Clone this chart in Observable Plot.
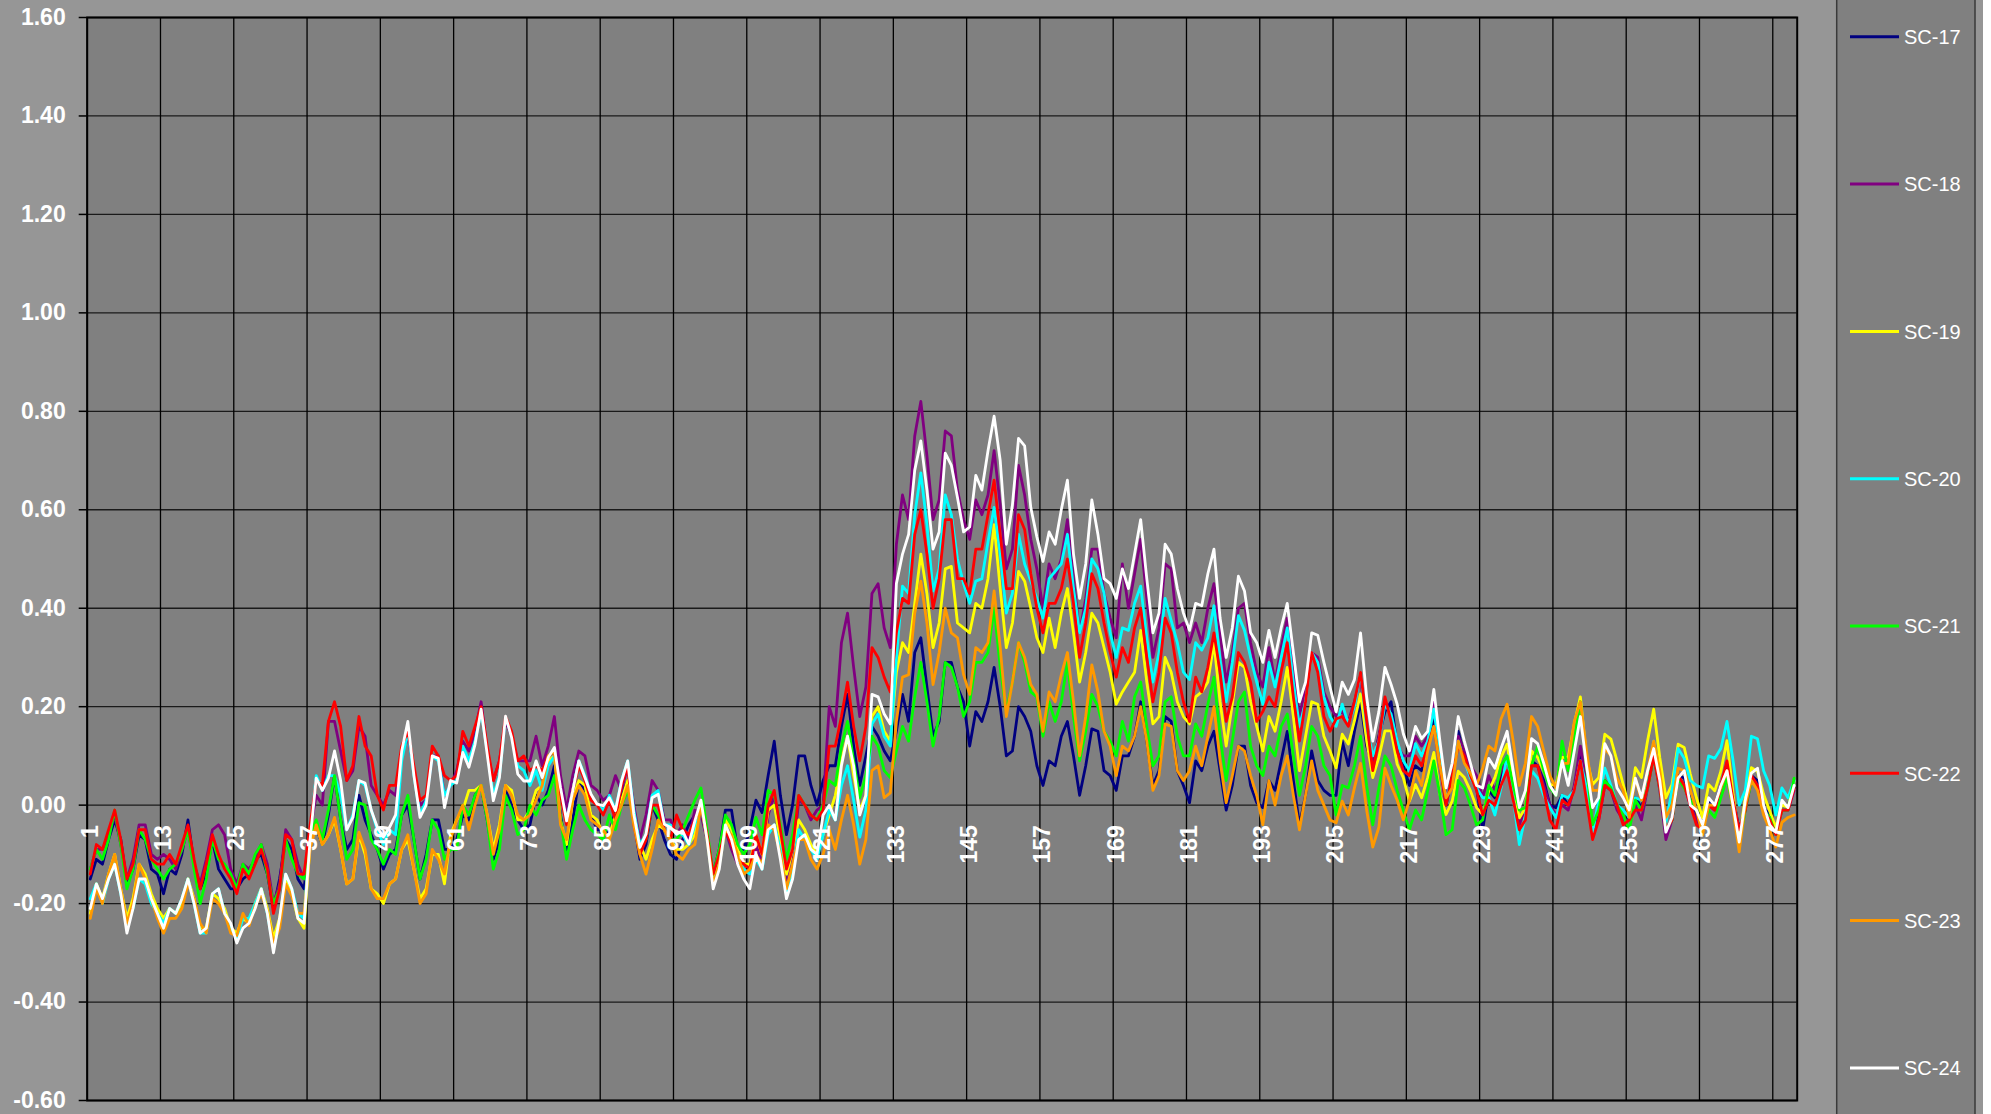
<!DOCTYPE html>
<html><head><meta charset="utf-8">
<script src="https://cdn.jsdelivr.net/npm/d3@7"></script>
<script src="https://cdn.jsdelivr.net/npm/@observablehq/plot@0.6"></script>
<style>html,body{margin:0;padding:0;background:#969696;overflow:hidden}</style>
</head><body><div id="chart"></div>
<script>
const seriesNames = ["SC-17","SC-18","SC-19","SC-20","SC-21","SC-22","SC-23","SC-24"];
const seriesColors = ["#000080","#800080","#FFFF00","#00FFFF","#00FF00","#FF0000","#FF9900","#FFFFFF"];
const xLabels = [1,13,25,37,49,61,73,85,97,109,121,133,145,157,169,181,193,205,217,229,241,253,265,277];
const yTicks = [-0.6,-0.4,-0.2,0,0.2,0.4,0.6,0.8,1.0,1.2,1.4,1.6];

const sc17 = [
-0.15,-0.11,-0.12,-0.07,-0.03,-0.07,-0.16,-0.13,-0.06,-0.07,
-0.13,-0.14,-0.18,-0.13,-0.14,-0.10,-0.03,-0.12,-0.17,-0.14,
-0.07,-0.13,-0.15,-0.17,-0.17,-0.15,-0.14,-0.11,-0.10,-0.14,
-0.21,-0.15,-0.07,-0.09,-0.15,-0.17,-0.07,-0.045,-0.08,-0.02,
0.06,-0.03,-0.09,-0.07,0.02,-0.03,-0.06,-0.09,-0.13,-0.10,
-0.09,-0.02,0.00,-0.07,-0.15,-0.10,-0.03,-0.03,-0.09,-0.09,
-0.07,-0.02,-0.03,0.02,0.04,-0.03,-0.11,-0.07,0.03,0.00,
-0.03,-0.05,-0.04,0.02,0.00,0.03,0.08,-0.02,-0.10,-0.03,
0.05,0.03,-0.02,-0.05,-0.05,-0.06,-0.01,0.02,0.05,-0.03,
-0.11,-0.08,0.00,-0.03,-0.07,-0.10,-0.11,-0.07,-0.04,-0.02,
0.00,-0.06,-0.14,-0.09,-0.01,-0.01,-0.09,-0.09,-0.05,0.01,
-0.015,0.06,0.13,0.02,-0.06,0.00,0.10,0.10,0.04,0.00,
0.05,0.08,0.08,0.16,0.225,0.12,0.04,0.10,0.16,0.14,
0.11,0.09,0.15,0.225,0.17,0.31,0.34,0.24,0.14,0.17,
0.29,0.29,0.24,0.21,0.12,0.19,0.17,0.21,0.28,0.20,
0.10,0.11,0.20,0.18,0.15,0.08,0.04,0.09,0.08,0.14,
0.17,0.10,0.02,0.08,0.155,0.15,0.07,0.06,0.03,0.10,
0.10,0.14,0.21,0.13,0.04,0.07,0.18,0.17,0.07,0.04,
0.005,0.09,0.07,0.12,0.15,0.07,-0.01,0.04,0.12,0.12,
0.04,0.005,-0.005,0.05,0.03,0.09,0.15,0.05,-0.04,0.02,
0.11,0.05,0.03,0.02,0.02,0.13,0.08,0.15,0.21,0.12,
0.08,0.14,0.19,0.21,0.12,0.08,0.04,0.08,0.07,0.12,
0.18,0.09,0.00,0.06,0.15,0.10,0.06,0.035,-0.05,0.03,
0.015,0.06,0.10,0.03,-0.03,-0.01,0.09,0.08,0.05,0.00,
-0.005,0.02,0.00,0.035,0.10,0.03,-0.05,-0.01,0.05,0.035,
0.00,-0.03,-0.03,0.015,-0.005,0.04,0.10,0.04,-0.05,-0.03,
0.06,0.055,0.015,-0.03,-0.04,0.01,0.00,0.04,0.08,0.015,
-0.05,-0.005,0.06,0.05,-0.005,-0.02,-0.05,0.00,0.00,0.035];

const sc18 = [
-0.13,-0.09,-0.09,-0.06,-0.02,-0.08,-0.15,-0.11,-0.04,-0.04,
-0.10,-0.11,-0.10,-0.11,-0.13,-0.09,-0.05,-0.12,-0.16,-0.11,
-0.05,-0.04,-0.06,-0.13,-0.16,-0.12,-0.13,-0.11,-0.08,-0.12,
-0.20,-0.16,-0.05,-0.07,-0.12,-0.15,-0.05,0.02,0.00,0.17,
0.17,0.11,0.05,0.07,0.16,0.14,0.04,0.02,0.00,0.03,
0.02,0.11,0.14,0.07,0.00,0.01,0.10,0.10,0.02,0.04,
0.07,0.13,0.11,0.15,0.21,0.11,0.05,0.09,0.17,0.14,
0.09,0.09,0.09,0.14,0.08,0.12,0.18,0.06,-0.01,0.06,
0.11,0.10,0.04,0.03,0.01,0.02,0.06,0.03,0.08,0.00,
-0.07,-0.02,0.05,0.03,-0.03,-0.03,-0.06,-0.04,-0.07,-0.01,
-0.02,-0.07,-0.15,-0.11,-0.05,-0.09,-0.12,-0.13,-0.14,-0.08,
-0.12,-0.02,0.02,-0.06,-0.16,-0.12,0.01,0.00,-0.03,-0.01,
0.00,0.20,0.16,0.33,0.39,0.28,0.18,0.24,0.43,0.45,
0.36,0.32,0.53,0.63,0.58,0.75,0.82,0.71,0.58,0.62,
0.76,0.75,0.64,0.58,0.54,0.62,0.59,0.63,0.72,0.61,
0.48,0.52,0.69,0.63,0.54,0.48,0.40,0.49,0.46,0.50,
0.58,0.46,0.35,0.42,0.52,0.52,0.43,0.38,0.34,0.49,
0.40,0.47,0.54,0.42,0.30,0.36,0.49,0.48,0.36,0.37,
0.33,0.37,0.33,0.40,0.45,0.35,0.25,0.31,0.40,0.41,
0.33,0.27,0.24,0.32,0.25,0.32,0.38,0.28,0.18,0.24,
0.31,0.30,0.23,0.20,0.18,0.19,0.17,0.21,0.26,0.15,
0.08,0.14,0.21,0.18,0.12,0.10,0.10,0.14,0.12,0.14,
0.21,0.12,0.015,0.04,0.14,0.11,0.08,0.06,0.015,0.06,
0.03,0.07,0.09,0.03,-0.04,-0.005,0.08,0.08,0.04,0.00,
-0.02,0.00,-0.01,0.04,0.12,0.04,-0.05,-0.03,0.04,0.03,
-0.01,-0.03,-0.03,0.00,-0.03,0.035,0.10,0.03,-0.07,-0.03,
0.06,0.04,0.00,-0.03,-0.05,0.00,-0.01,0.035,0.07,0.00,
-0.07,-0.01,0.05,0.04,-0.01,-0.03,-0.06,-0.01,-0.01,0.03];

const sc19 = [
-0.22,-0.16,-0.19,-0.14,-0.10,-0.17,-0.23,-0.19,-0.12,-0.14,
-0.18,-0.21,-0.23,-0.21,-0.22,-0.20,-0.15,-0.19,-0.25,-0.25,
-0.18,-0.19,-0.21,-0.25,-0.26,-0.23,-0.24,-0.20,-0.17,-0.21,
-0.27,-0.23,-0.15,-0.18,-0.23,-0.25,-0.08,-0.04,-0.08,-0.06,
-0.03,-0.09,-0.16,-0.15,-0.06,-0.10,-0.17,-0.18,-0.20,-0.16,
-0.15,-0.09,-0.07,-0.13,-0.19,-0.17,-0.10,-0.10,-0.16,-0.06,
-0.03,-0.01,0.03,0.03,0.04,-0.02,-0.09,-0.04,0.04,0.03,
-0.03,-0.03,-0.01,0.03,0.04,0.09,0.10,-0.03,-0.08,0.01,
0.05,0.04,-0.02,-0.03,-0.06,-0.06,-0.02,0.01,0.05,-0.03,
-0.08,-0.11,-0.07,-0.04,-0.05,-0.07,-0.09,-0.09,-0.08,-0.06,
0.01,-0.06,-0.15,-0.11,-0.03,-0.05,-0.09,-0.12,-0.12,-0.06,
-0.10,-0.01,0.00,-0.07,-0.14,-0.09,-0.03,-0.05,-0.08,-0.10,
-0.06,-0.02,0.02,0.09,0.14,0.06,-0.01,0.02,0.18,0.20,
0.15,0.13,0.27,0.33,0.31,0.41,0.51,0.43,0.32,0.37,
0.48,0.485,0.37,0.36,0.35,0.41,0.40,0.46,0.57,0.44,
0.32,0.37,0.475,0.455,0.40,0.34,0.31,0.38,0.32,0.39,
0.44,0.35,0.25,0.31,0.39,0.37,0.32,0.27,0.205,0.23,
0.25,0.27,0.355,0.25,0.165,0.18,0.30,0.27,0.21,0.18,
0.165,0.22,0.23,0.25,0.33,0.21,0.12,0.205,0.29,0.28,
0.21,0.16,0.11,0.18,0.15,0.21,0.28,0.18,0.07,0.14,
0.21,0.205,0.14,0.11,0.076,0.144,0.124,0.171,0.226,0.131,
0.056,0.097,0.151,0.151,0.083,0.056,0.008,0.042,0.015,0.056,
0.107,0.022,-0.019,0.008,0.069,0.056,0.029,-0.005,-0.019,0.029,
0.056,0.097,0.124,0.042,-0.026,-0.005,0.11,0.097,0.069,0.042,
0.04,0.097,0.097,0.165,0.22,0.097,0.042,0.056,0.144,0.134,
0.09,0.042,-0.005,0.076,0.056,0.131,0.195,0.097,0.015,0.042,
0.124,0.117,0.063,0.015,-0.026,0.042,0.029,0.069,0.131,0.022,
-0.067,0.015,0.076,0.069,0.022,-0.012,-0.046,0.001,-0.005,0.049];

const sc20 = [
-0.19,-0.16,-0.20,-0.15,-0.12,-0.18,-0.24,-0.21,-0.15,-0.16,
-0.20,-0.22,-0.24,-0.21,-0.22,-0.19,-0.15,-0.20,-0.26,-0.26,
-0.18,-0.17,-0.22,-0.25,-0.27,-0.23,-0.23,-0.20,-0.17,-0.22,
-0.29,-0.24,-0.14,-0.17,-0.22,-0.23,-0.05,0.06,0.03,0.06,
0.06,0.02,-0.05,-0.02,0.05,0.04,-0.01,-0.05,-0.08,-0.05,
-0.06,0.09,0.15,0.06,-0.02,0.01,0.10,0.09,0.02,0.04,
0.05,0.12,0.09,0.13,0.19,0.11,0.02,0.06,0.18,0.14,
0.08,0.07,0.04,0.07,0.03,0.08,0.10,0.02,-0.03,0.03,
0.09,0.06,0.02,0.00,-0.01,0.02,-0.01,0.05,0.09,-0.01,
-0.08,-0.06,0.02,0.03,-0.04,-0.04,-0.06,-0.06,-0.08,-0.04,
0.00,-0.07,-0.16,-0.12,-0.05,-0.07,-0.11,-0.13,-0.14,-0.11,
-0.13,-0.06,-0.04,-0.09,-0.18,-0.13,-0.05,-0.07,-0.09,-0.11,
-0.06,-0.01,-0.03,0.04,0.08,0.01,-0.065,-0.01,0.165,0.185,
0.14,0.12,0.30,0.445,0.43,0.59,0.675,0.57,0.435,0.48,
0.63,0.59,0.50,0.45,0.41,0.455,0.46,0.535,0.605,0.51,
0.39,0.43,0.55,0.49,0.455,0.42,0.38,0.46,0.475,0.49,
0.55,0.44,0.35,0.40,0.50,0.48,0.43,0.35,0.30,0.36,
0.355,0.41,0.445,0.34,0.25,0.31,0.42,0.375,0.33,0.27,
0.255,0.33,0.315,0.34,0.405,0.295,0.21,0.29,0.385,0.355,
0.30,0.25,0.205,0.29,0.24,0.30,0.36,0.25,0.16,0.21,
0.31,0.29,0.22,0.18,0.16,0.205,0.165,0.20,0.27,0.16,
0.10,0.13,0.205,0.185,0.13,0.09,0.07,0.125,0.10,0.13,
0.195,0.10,0.01,0.055,0.13,0.09,0.055,0.035,0.015,0.015,
-0.02,0.035,0.10,0.015,-0.08,-0.02,0.07,0.055,0.02,-0.005,
-0.025,0.02,0.015,0.03,0.09,0.035,-0.055,0.01,0.075,0.04,
0.00,-0.01,-0.025,0.015,0.01,0.04,0.13,0.055,-0.035,0.03,
0.115,0.095,0.05,0.04,0.035,0.10,0.095,0.115,0.17,0.09,
0.00,0.03,0.14,0.135,0.07,0.04,-0.02,0.035,0.015,0.05];

const sc21 = [
-0.13,-0.09,-0.11,-0.07,-0.01,-0.08,-0.17,-0.13,-0.05,-0.07,
-0.11,-0.13,-0.15,-0.13,-0.12,-0.09,-0.05,-0.13,-0.20,-0.15,
-0.07,-0.11,-0.12,-0.14,-0.17,-0.12,-0.14,-0.10,-0.08,-0.14,
-0.20,-0.17,-0.07,-0.11,-0.14,-0.15,-0.06,-0.03,-0.07,-0.01,
0.06,-0.03,-0.11,-0.09,0.005,0.00,-0.07,-0.09,-0.12,-0.09,
-0.10,-0.02,0.02,-0.07,-0.15,-0.11,-0.03,-0.05,-0.11,-0.09,
-0.09,0.00,-0.02,0.02,0.04,-0.03,-0.13,-0.09,0.02,-0.01,
-0.06,-0.05,0.00,-0.02,0.01,0.02,0.06,-0.03,-0.11,-0.05,
0.00,-0.03,-0.05,-0.06,-0.07,-0.02,-0.05,0.00,0.03,-0.02,
-0.09,-0.07,0.00,-0.02,-0.05,-0.07,-0.07,-0.05,-0.02,0.01,
0.035,-0.05,-0.14,-0.09,-0.02,-0.04,-0.08,-0.10,-0.08,-0.025,
-0.06,0.03,0.02,-0.04,-0.11,-0.06,0.02,0.00,-0.02,-0.03,
0.00,0.05,0.04,0.12,0.17,0.09,0.015,0.06,0.14,0.12,
0.07,0.056,0.11,0.16,0.13,0.22,0.29,0.21,0.12,0.18,
0.29,0.28,0.24,0.18,0.21,0.29,0.29,0.31,0.40,0.28,
0.19,0.25,0.33,0.29,0.23,0.22,0.14,0.21,0.17,0.21,
0.29,0.18,0.09,0.15,0.225,0.20,0.15,0.13,0.10,0.17,
0.13,0.22,0.25,0.16,0.08,0.10,0.21,0.22,0.14,0.10,
0.10,0.165,0.14,0.205,0.26,0.14,0.05,0.13,0.21,0.23,
0.12,0.08,0.06,0.12,0.10,0.16,0.185,0.10,0.02,0.08,
0.16,0.14,0.08,0.06,-0.02,0.04,0.035,0.08,0.14,0.04,
-0.04,0.035,0.10,0.08,0.03,-0.01,-0.05,-0.01,-0.03,0.03,
0.09,0.02,-0.06,-0.05,0.05,0.035,0.00,-0.04,-0.03,0.04,
0.02,0.08,0.10,0.04,-0.01,-0.005,0.08,0.12,0.07,0.035,
0.02,0.13,0.07,0.14,0.21,0.08,-0.04,-0.01,0.05,0.035,
0.00,-0.02,-0.05,0.01,-0.01,0.035,0.10,0.035,-0.05,-0.03,
0.055,0.035,0.01,-0.01,-0.045,-0.01,-0.025,0.015,0.055,-0.005,
-0.08,-0.01,0.05,0.035,-0.01,-0.025,-0.06,-0.01,-0.01,0.055];

const sc22 = [
-0.14,-0.08,-0.09,-0.05,-0.01,-0.07,-0.15,-0.12,-0.05,-0.05,
-0.11,-0.12,-0.12,-0.10,-0.12,-0.08,-0.04,-0.11,-0.17,-0.12,
-0.06,-0.10,-0.13,-0.15,-0.18,-0.13,-0.15,-0.12,-0.09,-0.13,
-0.22,-0.17,-0.06,-0.07,-0.14,-0.14,-0.04,0.05,0.04,0.17,
0.21,0.16,0.05,0.08,0.18,0.12,0.10,0.02,-0.01,0.04,
0.04,0.12,0.15,0.08,0.01,0.02,0.12,0.10,0.06,0.05,
0.06,0.15,0.12,0.16,0.20,0.12,0.05,0.09,0.18,0.15,
0.09,0.10,0.07,0.08,0.07,0.10,0.11,0.02,-0.04,0.03,
0.08,0.05,0.01,0.00,-0.02,0.01,-0.03,0.04,0.08,-0.04,
-0.10,-0.07,0.00,0.00,-0.05,-0.07,-0.02,-0.05,-0.06,-0.03,
0.00,-0.06,-0.14,-0.10,-0.05,-0.08,-0.11,-0.12,-0.13,-0.06,
-0.10,0.00,0.03,-0.05,-0.13,-0.09,0.02,0.00,-0.02,-0.03,
-0.01,0.12,0.12,0.18,0.25,0.16,0.09,0.16,0.32,0.30,
0.26,0.23,0.35,0.42,0.41,0.55,0.60,0.51,0.40,0.46,
0.58,0.58,0.46,0.46,0.43,0.52,0.52,0.59,0.66,0.55,
0.44,0.44,0.59,0.56,0.47,0.40,0.35,0.41,0.41,0.44,
0.50,0.41,0.30,0.37,0.47,0.44,0.37,0.31,0.26,0.32,
0.29,0.36,0.40,0.30,0.21,0.27,0.38,0.35,0.27,0.21,
0.17,0.26,0.23,0.28,0.35,0.27,0.17,0.22,0.31,0.29,
0.25,0.17,0.19,0.22,0.20,0.27,0.33,0.22,0.13,0.21,
0.31,0.27,0.18,0.15,0.175,0.18,0.16,0.21,0.27,0.17,
0.07,0.13,0.22,0.17,0.11,0.07,0.06,0.10,0.08,0.12,
0.16,0.08,0.00,0.06,0.12,0.10,0.06,0.03,-0.02,0.01,
0.00,0.04,0.07,0.01,-0.05,-0.03,0.08,0.08,0.03,-0.03,
-0.05,0.01,0.00,0.03,0.09,0.01,-0.07,-0.03,0.04,0.03,
0.00,-0.04,-0.03,-0.01,-0.01,0.035,0.10,0.035,-0.05,-0.03,
0.06,0.04,0.00,-0.04,-0.05,0.00,-0.01,0.04,0.09,0.01,
-0.05,-0.01,0.06,0.04,-0.01,-0.03,-0.06,-0.01,-0.01,0.035];

const sc23 = [
-0.23,-0.17,-0.20,-0.14,-0.10,-0.17,-0.24,-0.20,-0.12,-0.15,
-0.19,-0.23,-0.26,-0.23,-0.23,-0.21,-0.16,-0.19,-0.24,-0.26,
-0.19,-0.20,-0.22,-0.26,-0.265,-0.22,-0.245,-0.205,-0.18,-0.215,
-0.28,-0.25,-0.16,-0.185,-0.22,-0.22,-0.09,-0.04,-0.08,-0.06,
-0.025,-0.09,-0.16,-0.15,-0.055,-0.09,-0.17,-0.19,-0.19,-0.16,
-0.15,-0.09,-0.06,-0.13,-0.20,-0.18,-0.09,-0.11,-0.14,-0.07,
-0.03,0.00,-0.05,0.00,0.04,-0.02,-0.10,-0.05,0.04,0.02,
-0.02,-0.03,-0.02,0.01,0.04,0.10,0.11,-0.04,-0.07,0.01,
0.04,0.02,-0.03,-0.04,-0.05,-0.07,-0.03,0.00,0.04,-0.04,
-0.10,-0.14,-0.09,-0.03,-0.05,-0.07,-0.10,-0.11,-0.09,-0.08,
0.00,-0.07,-0.16,-0.12,-0.05,-0.06,-0.10,-0.14,-0.13,-0.10,
-0.12,-0.04,-0.05,-0.10,-0.17,-0.12,-0.07,-0.07,-0.11,-0.13,
-0.10,-0.05,-0.09,-0.03,0.02,-0.04,-0.12,-0.07,0.07,0.08,
0.015,0.025,0.17,0.26,0.265,0.39,0.455,0.37,0.245,0.31,
0.40,0.35,0.34,0.265,0.225,0.32,0.31,0.33,0.435,0.32,
0.18,0.25,0.33,0.30,0.245,0.225,0.15,0.23,0.21,0.265,
0.31,0.21,0.10,0.18,0.285,0.23,0.15,0.12,0.06,0.12,
0.11,0.14,0.20,0.13,0.03,0.06,0.165,0.16,0.07,0.05,
0.07,0.12,0.08,0.14,0.20,0.09,0.005,0.06,0.12,0.11,
0.06,0.02,-0.04,0.05,0.00,0.06,0.10,0.02,-0.05,0.02,
0.09,0.03,0.00,-0.03,-0.036,0.008,-0.02,0.035,0.085,-0.01,
-0.085,-0.045,0.075,0.04,0.01,-0.03,0.01,0.07,0.04,0.11,
0.16,0.08,0.015,0.035,0.13,0.085,0.065,0.04,0.075,0.12,
0.11,0.175,0.205,0.13,0.04,0.085,0.18,0.16,0.11,0.06,
0.035,0.085,0.085,0.17,0.21,0.11,0.03,0.03,0.115,0.10,
0.055,0.03,-0.025,0.055,0.01,0.07,0.13,0.07,-0.025,0.00,
0.075,0.07,0.03,-0.01,-0.06,0.00,0.00,0.035,0.07,-0.01,
-0.095,0.00,0.05,0.03,-0.02,-0.05,-0.085,-0.035,-0.025,-0.02];

const sc24 = [
-0.21,-0.16,-0.19,-0.15,-0.12,-0.18,-0.26,-0.21,-0.15,-0.15,
-0.19,-0.22,-0.25,-0.21,-0.22,-0.19,-0.15,-0.20,-0.26,-0.25,
-0.18,-0.17,-0.22,-0.24,-0.28,-0.25,-0.24,-0.21,-0.17,-0.22,
-0.30,-0.23,-0.14,-0.17,-0.23,-0.24,-0.07,0.055,0.03,0.055,
0.11,0.05,-0.05,-0.025,0.05,0.045,-0.01,-0.045,-0.065,-0.045,
-0.02,0.11,0.17,0.06,-0.025,0.00,0.10,0.095,-0.005,0.05,
0.045,0.107,0.077,0.123,0.195,0.103,0.009,0.056,0.181,0.137,
0.063,0.049,0.049,0.09,0.056,0.097,0.117,0.036,-0.032,0.029,
0.09,0.056,0.022,0.002,-0.001,0.015,-0.011,0.049,0.09,-0.018,
-0.086,-0.059,0.015,0.022,-0.039,-0.045,-0.059,-0.052,-0.079,-0.032,
0.01,-0.07,-0.17,-0.13,-0.04,-0.07,-0.12,-0.15,-0.17,-0.10,
-0.13,-0.05,-0.04,-0.11,-0.19,-0.15,-0.07,-0.06,-0.09,-0.10,
-0.02,0.00,-0.03,0.08,0.14,0.08,-0.02,0.02,0.225,0.22,
0.185,0.165,0.45,0.51,0.55,0.68,0.74,0.64,0.52,0.555,
0.715,0.69,0.625,0.555,0.565,0.67,0.64,0.72,0.79,0.70,
0.53,0.61,0.745,0.73,0.605,0.545,0.495,0.555,0.53,0.60,
0.66,0.51,0.42,0.49,0.62,0.55,0.46,0.45,0.42,0.48,
0.44,0.51,0.58,0.46,0.35,0.39,0.53,0.51,0.44,0.39,
0.355,0.41,0.405,0.47,0.52,0.38,0.30,0.36,0.465,0.435,
0.35,0.33,0.29,0.355,0.30,0.36,0.41,0.31,0.21,0.25,
0.35,0.345,0.29,0.24,0.19,0.25,0.225,0.255,0.35,0.22,
0.13,0.19,0.28,0.245,0.205,0.145,0.11,0.16,0.135,0.15,
0.235,0.13,0.035,0.085,0.18,0.13,0.085,0.04,0.035,0.095,
0.075,0.115,0.15,0.07,-0.005,0.03,0.135,0.125,0.085,0.04,
0.02,0.09,0.04,0.11,0.18,0.08,-0.005,0.015,0.125,0.10,
0.035,0.015,-0.01,0.055,0.015,0.07,0.115,0.05,-0.055,-0.025,
0.055,0.07,0.00,-0.01,-0.04,0.015,0.00,0.04,0.07,0.00,
-0.075,0.01,0.065,0.075,0.00,-0.04,-0.055,0.01,-0.005,0.04];

const allSeries = [sc17, sc18, sc19, sc20, sc21, sc22, sc23, sc24];
const nCat = sc17.length;
allSeries.forEach((s, k) => { if (s.length !== nCat) throw new Error(seriesNames[k] + " has " + s.length + " values"); });
const rows = allSeries.flatMap((s, k) => s.map((v, j) => ({series: seriesNames[k], i: j + 1, v})));

const W = 1991, H = 1114;
const FONT = "'Liberation Sans', Arial, sans-serif";
const chart = Plot.plot({
  width: W, height: H,
  marginLeft: 86.7, marginRight: 194.3, marginTop: 17, marginBottom: 14,
  style: {background: "#969696", fontFamily: FONT, overflow: "visible"},
  x: {type: "linear", domain: [0.5, nCat + 0.5], axis: null},
  y: {domain: [-0.6, 1.6], axis: null},
  color: {domain: seriesNames, range: seriesColors},
  marks: [
    Plot.frame({fill: "#808080", stroke: null}),
    Plot.ruleY(yTicks, {stroke: "#1a1a1a", strokeWidth: 1.3}),
    Plot.ruleX(xLabels.map(d => d - 0.5), {stroke: "#000", strokeWidth: 1.3}),
    Plot.line(rows, {x: "i", y: "v", z: "series", stroke: "series", strokeWidth: 2.8, strokeLinejoin: "round"}),
    Plot.frame({stroke: "#000", strokeWidth: 2}),
    Plot.axisY({ticks: yTicks, tickSize: 8, tickPadding: 13.5, tickFormat: d => d.toFixed(2),
      fontSize: 23, fontWeight: "bold", fill: "#fff", stroke: "#000", strokeWidth: 1.5, label: null}),
    Plot.text(xLabels, {x: d => d, y: 0, text: d => String(d), rotate: -90, textAnchor: "end",
      dy: 20, fill: "#fff", fontSize: 23, fontWeight: "bold"})
  ]
});
document.getElementById("chart").appendChild(chart);

// legend panel on the right
const svg = d3.select(chart);
const lg = svg.append("g").attr("text-anchor", "start");
lg.append("rect").attr("x", 1836.7).attr("y", -2).attr("width", 138.3).attr("height", H + 4)
  .attr("fill", "#808080").attr("stroke", "#3a3a3a").attr("stroke-width", 1.5);
lg.append("rect").attr("x", 1983).attr("y", 0).attr("width", W - 1983).attr("height", H).attr("fill", "#ffffff");
const legendTop = 36.8, legendStep = 147.3;
seriesNames.forEach((name, k) => {
  const y = legendTop + k * legendStep;
  lg.append("line").attr("x1", 1850).attr("x2", 1899).attr("y1", y).attr("y2", y)
    .attr("stroke", seriesColors[k]).attr("stroke-width", 3);
  lg.append("text").attr("x", 1904).attr("y", y).attr("dy", "0.36em")
    .attr("text-anchor", "start")
    .attr("fill", "#fff").attr("font-size", 20)
    .attr("font-family", FONT).text(name);
});
</script>
</body></html>
